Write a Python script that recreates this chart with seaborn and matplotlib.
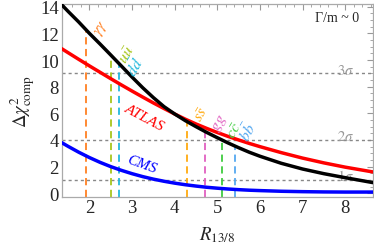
import numpy as np
import pandas as pd
import seaborn as sns
import matplotlib
matplotlib.use("Agg")
import matplotlib.pyplot as plt
from matplotlib.ticker import MultipleLocator

# R_{13/8} grid and curves
r_vals = [1.35, 1.5, 1.75, 2.0, 2.25, 2.5, 2.75, 3.0, 3.25, 3.5, 3.75, 4.0, 4.25, 4.5,
          4.75, 5.0, 5.25, 5.5, 5.75, 6.0, 6.5, 7.0, 7.5, 8.0, 8.65]
combined = [14.15, 13.65, 12.85, 12.0, 11.2, 10.38, 9.55, 8.72, 7.92, 7.18, 6.5, 5.95, 5.45, 5.0,
            4.57, 4.17, 3.78, 3.42, 3.08, 2.78, 2.25, 1.82, 1.47, 1.17, 0.8]
atlas = [10.85, 10.55, 10.05, 9.56, 9.08, 8.6, 8.13, 7.67, 7.22, 6.78, 6.36, 5.95, 5.56, 5.2,
         4.87, 4.56, 4.27, 4.0, 3.74, 3.5, 3.05, 2.64, 2.28, 1.96, 1.6]
cms = [3.8, 3.52, 3.08, 2.68, 2.32, 2.0, 1.72, 1.47, 1.25, 1.06, 0.9, 0.76, 0.64, 0.54,
       0.45, 0.38, 0.32, 0.27, 0.23, 0.2, 0.15, 0.12, 0.1, 0.09, 0.09]

# production channels: position and top of the dashed line
channels = [r"$\gamma\gamma$", r"$u\bar{u}$", r"$d\bar{d}$", r"$s\bar{s}$", r"$gg$", r"$c\bar{c}$", r"$b\bar{b}$"]
channel_r = [1.92, 2.50, 2.70, 4.29, 4.72, 5.11, 5.41]
channel_top = [12.3, 10.4, 9.7, 5.3, 4.7, 4.05, 3.55]
channel_colors = ["#FF8022", "#A8C61C", "#22B8DC", "#FFAA10", "#E060C0", "#40CC40", "#55A8F0"]
label_pos = [(2.28, 12.45), (2.88, 10.4), (3.08, 9.55), (4.62, 5.95), (5.05, 5.35), (5.42, 4.75), (5.72, 4.62)]

sigma_levels = [1, 4, 9]
sigma_labels = [r"$1\sigma$", r"$2\sigma$", r"$3\sigma$"]

sns.set_theme(style="white")
plt.rcParams["font.family"] = ["Liberation Serif", "DejaVu Serif"]
plt.rcParams["mathtext.fontset"] = "stix"

fig = plt.figure(figsize=(3.74, 2.53), dpi=100)
ax = fig.add_axes([0.165, 0.219, 0.832, 0.761])

df = pd.DataFrame({"R": r_vals, "comb": combined, "atlas": atlas, "cms": cms})

# significance levels
for lev in sigma_levels:
    ax.axhline(lev, color="#888888", lw=1.0, ls=(0, (2.2, 2.2)), zorder=1)
for lev, lab in zip(sigma_levels, sigma_labels):
    ax.text(8.0, lev - 0.25, lab, color="#999999", fontsize=10.5, ha="center", va="bottom", zorder=2)

# channel lines
for x, top, c in zip(channel_r, channel_top, channel_colors):
    ax.plot([x, x], [-0.3, top], color=c, lw=1.3, ls=(0, (4, 2.5)), zorder=2)
for lab, (x, y), c in zip(channels, label_pos, channel_colors):
    ax.text(x, y, lab, color=c, fontsize=11.5, rotation=60, ha="center", va="center", zorder=4)

sns.lineplot(data=df, x="R", y="cms", color="#0000FF", lw=2.5, ax=ax, zorder=3)
sns.lineplot(data=df, x="R", y="atlas", color="#FF0000", lw=2.5, ax=ax, zorder=3)
sns.lineplot(data=df, x="R", y="comb", color="black", lw=2.5, ax=ax, zorder=3)

ax.text(3.3, 5.7, "ATLAS", color="#FF0000", fontsize=11, fontstyle="italic",
        rotation=-28, ha="center", va="center")
ax.text(3.22, 2.2, "CMS", color="#0000FF", fontsize=11, fontstyle="italic",
        rotation=-20, ha="center", va="center")
ax.text(7.8, 13.2, "Γ/m ~ 0", fontsize=10, ha="center", va="center")

ax.set_xlim(1.35, 8.65)
ax.set_ylim(-0.25, 14.2)
ax.xaxis.set_major_locator(MultipleLocator(1))
ax.xaxis.set_minor_locator(MultipleLocator(0.2))
ax.yaxis.set_major_locator(MultipleLocator(2))
ax.yaxis.set_minor_locator(MultipleLocator(0.5))
ax.tick_params(which="both", direction="in", top=True, right=True, color="#999999",
               labelsize=13.5, pad=2)
ax.tick_params(which="major", length=4, width=0.8)
ax.tick_params(which="minor", length=2, width=0.6)
for s in ax.spines.values():
    s.set_color("#AAAAAA")
    s.set_linewidth(0.9)

ax.set_xlabel(r"$R_{13/8}$", fontsize=13.5, labelpad=6)
ax.set_ylabel(r"$\Delta\chi^2_{\rm comp}$", fontsize=13.5, labelpad=2)

fig.savefig("out.png", dpi=100)
